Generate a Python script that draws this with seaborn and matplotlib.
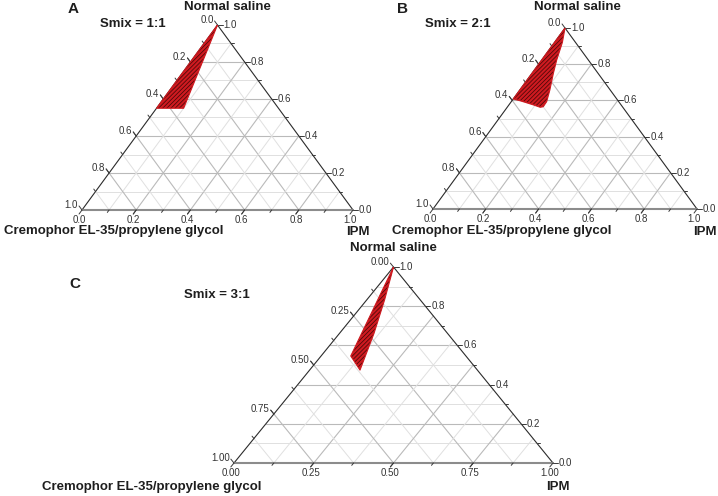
import numpy as np
import pandas as pd
import seaborn as sns
import matplotlib.pyplot as plt

# fases: IPM (base), Normal saline (vertice), Cremophor/PG (resto)
# regiao de microemulsao (fracao de saline e de IPM no contorno)
saline_a = [1.0, 0.55, 0.55]
ipm_a = [0.0, 0.0, 0.10]

saline_b = [1.0, 0.92, 0.823, 0.75, 0.657, 0.593, 0.565, 0.562, 0.575, 0.587, 0.598, 0.608]
ipm_b = [0.0, 0.03, 0.057, 0.081, 0.114, 0.134, 0.135, 0.125, 0.093, 0.061, 0.031, 0.0]

saline_c = [1.0, 0.832, 0.662, 0.474, 0.546]
ipm_c = [0.0, 0.056, 0.108, 0.158, 0.093]

panel_letters = ["A", "B", "C"]
smix_labels = ["Smix = 1:1", "Smix = 2:1", "Smix = 3:1"]
ticks_ab = [0.0, 0.2, 0.4, 0.6, 0.8, 1.0]
ticks_c = [0.0, 0.25, 0.5, 0.75, 1.0]
ticks_saline = [0.0, 0.2, 0.4, 0.6, 0.8, 1.0]

sns.set_theme(style="white")
plt.rcParams['font.family'] = ['Liberation Sans', 'DejaVu Sans']
plt.rcParams['hatch.linewidth'] = 0.55

FW, FH = 718, 496
fig = plt.figure(figsize=(FW / 100, FH / 100), dpi=100)

TXT = '#1e1e1e'
TICK = '#3a3a3a'


def tern(i, s):
    i = np.asarray(i, dtype=float)
    s = np.asarray(s, dtype=float)
    return i + s / 2, s


def draw_panel(x0, y0, W, H, cr_major, cr_fmt, saline, ipm):
    # x0, y0 = canto inferior esquerdo do triangulo em pixels da figura
    ax = fig.add_axes([x0 / FW, 1 - y0 / FH, W / FW, H / FH])

    cr_step = cr_major[1] / 2
    cr_all = np.round(np.arange(cr_step, 1, cr_step), 4)
    s_all = np.round(np.arange(0.1, 1, 0.1), 4)

    def gcol(v, major):
        return ('#bababa', 0.8) if np.any(np.isclose(v, major)) else ('#e0e0e0', 0.7)

    # grade horizontal (saline constante)
    for f in s_all:
        c, lw = gcol(f, ticks_saline)
        x, y = tern([0, 1 - f], [f, f])
        ax.plot(x, y, color=c, lw=lw, zorder=1)
    # IPM constante e Cremophor constante
    for f in cr_all:
        c, lw = gcol(f, cr_major)
        x, y = tern([f, f], [0, 1 - f])
        ax.plot(x, y, color=c, lw=lw, zorder=1)
        x, y = tern([0, 1 - f], [1 - f, 0])
        ax.plot(x, y, color=c, lw=lw, zorder=1)

    # bordas
    x, y = tern([0, 0, 1], [0, 1, 0])
    ax.plot(x, y, color='#2b2b2b', lw=0.8, zorder=3, clip_on=False)
    x, y = tern([0, 1], [0, 0])
    ax.plot(x, y, color='#8c8c8c', lw=1.5, zorder=3, clip_on=False)

    # regiao
    x, y = tern(ipm, saline)
    ax.fill(x, y, facecolor='#cf1a20', edgecolor='#470808', hatch='////////',
            lw=0, zorder=4)
    df = pd.DataFrame({'x': np.append(x, x[0]), 'y': np.append(y, y[0])})
    sns.lineplot(data=df, x='x', y='y', sort=False, estimator=None,
                 color='#cf1a20', lw=0.8, ax=ax, zorder=5)
    ax.set_xlim(0, 1)
    ax.set_ylim(0, 1)
    ax.axis('off')

    def unit(dx, dy):
        n = np.hypot(dx, dy)
        return dx / n, dy / n

    dl = unit(-0.5 * W, H)
    dr = (1.0, 0.0)
    db = unit(-0.5 * W, -H)

    def tick(px, py, d, L, lab=None, ha='center', va='center', off=(0, 0)):
        ex, ey = px + d[0] * L / W, py + d[1] * L / H
        ax.plot([px, ex], [py, ey], color=TICK, lw=0.7, clip_on=False, zorder=3)
        if lab is not None:
            ax.text(ex + off[0] / W, ey + off[1] / H, lab, ha=ha, va=va,
                    fontsize=7, color='#333333')

    # eixo esquerdo (Cremophor) e base (IPM)
    for v in cr_all:
        major = np.any(np.isclose(v, cr_major))
        L = 5 if major else 3
        xl, yl = tern(0, 1 - v)
        xb, yb = tern(v, 0)
        tick(float(xl), float(yl), dl, L)
        tick(float(xb), float(yb), db, L)
    for v in cr_major:
        xl, yl = tern(0, 1 - v)
        tick(float(xl), float(yl), dl, 5, cr_fmt.format(v), 'right', 'center', (-1, 1))
        xb, yb = tern(v, 0)
        tick(float(xb), float(yb), db, 5, cr_fmt.format(v), 'center', 'top', (0, -1))
    # eixo direito (saline)
    for v in s_all:
        xr, yr = tern(1 - v, v)
        tick(float(xr), float(yr), dr, 3)
    for v in ticks_saline:
        xr, yr = tern(1 - v, v)
        tick(float(xr), float(yr), dr, 5, '{:.1f}'.format(v), 'left', 'center', (1, 0))
    return ax


def label(x, y, s, size=9.5, ha='center'):
    fig.text(x / FW, 1 - y / FH, s, ha=ha, va='center', fontsize=size,
             fontweight='bold', color=TXT)


draw_panel(82, 210, 271, 185, ticks_ab, '{:.1f}', saline_a, ipm_a)
draw_panel(433, 209, 264, 181, ticks_ab, '{:.1f}', saline_b, ipm_b)
draw_panel(234, 463, 319, 196, ticks_c, '{:.2f}', saline_c, ipm_c)

comp = "Cremophor EL-35/propylene glycol"
# painel A
label(73, 9, panel_letters[0], 11)
label(227, 7, "Normal saline")
label(133, 24, smix_labels[0])
label(114, 231, comp)
label(358, 232, "IPM")
# painel B
label(402, 9, panel_letters[1], 11)
label(577, 7, "Normal saline")
label(458, 24, smix_labels[1])
label(502, 231, comp)
label(705, 232, "IPM")
# painel C
label(75, 284, panel_letters[2], 11)
label(393, 248, "Normal saline")
label(217, 295, smix_labels[2])
label(152, 487, comp)
label(558, 487, "IPM")

fig.savefig("out.png", dpi=100)
